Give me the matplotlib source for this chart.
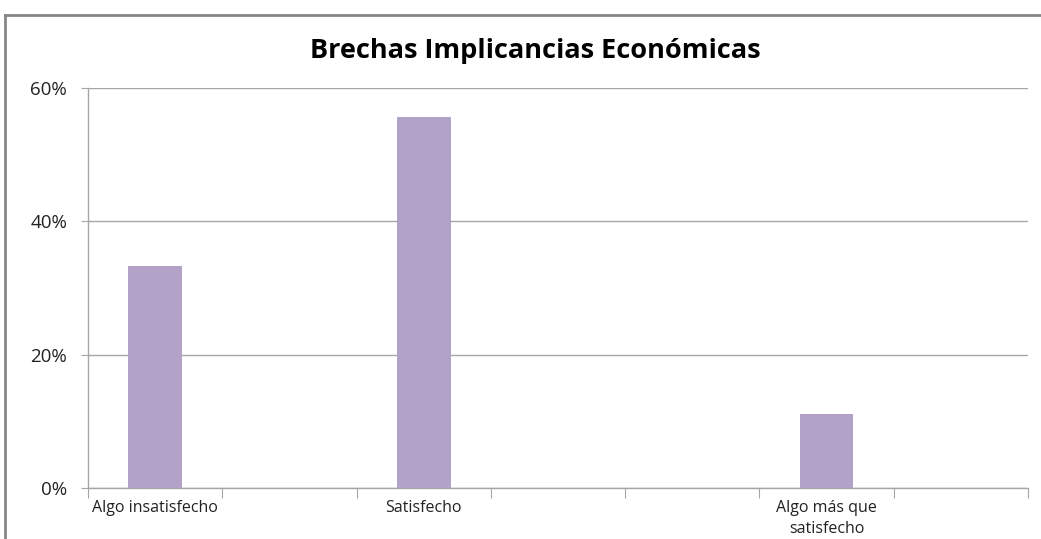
import numpy as np
import matplotlib
matplotlib.use("Agg")
import matplotlib.pyplot as plt
from matplotlib.lines import Line2D
from matplotlib.ticker import FuncFormatter

# Datos
categorias = ["Algo insatisfecho", "", "Satisfecho", "", "", "Algo más que\nsatisfecho", ""]
valores = [33.3, np.nan, 55.6, np.nan, np.nan, 11.1, np.nan]
yticks = [0, 20, 40, 60]

plt.rcParams['font.family'] = ['Open Sans', 'DejaVu Sans']

fig = plt.figure(figsize=(10.41, 5.39), dpi=100)
ax = fig.add_axes([88/1041, 51/539, 940/1041, 400/539])

x = np.arange(len(categorias))
ax.bar(x, valores, width=0.4, color="#B3A2C7", zorder=3)

ax.set_xlim(-0.5, len(categorias) - 0.5)
ax.set_ylim(0, 60)

# grilla y ejes
ax.set_yticks(yticks)
ax.yaxis.set_major_formatter(FuncFormatter(lambda v, p: f"{v:.0f}%"))
ax.grid(axis="y", color="#A6A6A6", linewidth=1, zorder=0)
for s in ["top", "right"]:
    ax.spines[s].set_visible(False)
for s in ["left", "bottom"]:
    ax.spines[s].set_color("#A6A6A6")
    ax.spines[s].set_linewidth(1)
ax.tick_params(axis="y", length=5, color="#A6A6A6", pad=10, labelsize=13.5, labelcolor="#222222")

# ticks en los limites de categoria, etiquetas al centro
ax.set_xticks(np.arange(-0.5, len(categorias), 1.0))
ax.set_xticklabels([])
ax.tick_params(axis="x", which="major", length=7, color="#A6A6A6")
ax.set_xticks(x, minor=True)
ax.set_xticklabels(categorias, minor=True, fontsize=11.5, color="#222222", linespacing=1.35)
ax.tick_params(axis="x", which="minor", length=0, pad=9)

fig.text(0.514, 0.905, "Brechas Implicancias Económicas", ha="center", va="center",
         fontsize=19.5, fontweight="bold", color="black")

# marco del grafico
fig.add_artist(Line2D([5/1041, 5/1041], [0, 1 - 15/539], transform=fig.transFigure, color="#868686", lw=2))
fig.add_artist(Line2D([5/1041, 1], [1 - 15/539, 1 - 15/539], transform=fig.transFigure, color="#868686", lw=2))

fig.savefig("out.png", dpi=100)
